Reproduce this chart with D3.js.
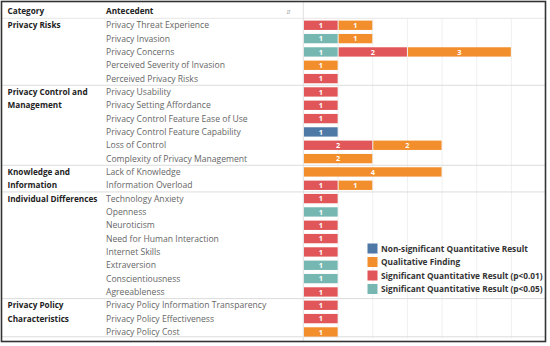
<!DOCTYPE html>
<html><head><meta charset="utf-8">
<script src="https://cdn.jsdelivr.net/npm/d3@7"></script>
<style>body{margin:0;background:#fff}svg{display:block}</style>
</head><body>
<svg id="c" width="550" height="346"></svg>
<script>
const categories = ["Privacy Risks","Privacy Control and Management","Knowledge and Information","Individual Differences","Privacy Policy Characteristics"];
const categoryLines = [["Privacy Risks"],["Privacy Control and","Management"],["Knowledge and","Information"],["Individual Differences"],["Privacy Policy","Characteristics"]];
const antecedents = ["Privacy Threat Experience","Privacy Invasion","Privacy Concerns","Perceived Severity of Invasion","Perceived Privacy Risks",
 "Privacy Usability","Privacy Setting Affordance","Privacy Control Feature Ease of Use","Privacy Control Feature Capability","Loss of Control","Complexity of Privacy Management",
 "Lack of Knowledge","Information Overload",
 "Technology Anxiety","Openness","Neuroticism","Need for Human Interaction","Internet Skills","Extraversion","Conscientiousness","Agreeableness",
 "Privacy Policy Information Transparency","Privacy Policy Effectiveness","Privacy Policy Cost"];
const antecedentCategory = [0,0,0,0,0, 1,1,1,1,1,1, 2,2, 3,3,3,3,3,3,3,3, 4,4,4];
const seriesNames = ["Non-significant Quantitative Result","Significant Quantitative Result (p<0.05)","Significant Quantitative Result (p<0.01)","Qualitative Finding"];
const nonSig = [0,0,0,0,0, 0,0,0,1,0,0, 0,0, 0,0,0,0,0,0,0,0, 0,0,0];
const sig05  = [0,1,1,0,0, 0,0,0,0,0,0, 0,0, 0,1,0,0,0,1,1,0, 0,0,0];
const sig01  = [1,0,2,0,1, 1,1,1,0,2,0, 0,1, 1,0,1,1,1,0,0,1, 1,1,0];
const qual   = [1,1,3,1,0, 0,0,0,0,2,2, 4,1, 0,0,0,0,0,0,0,0, 0,0,1];
const legendOrder = ["Non-significant Quantitative Result","Qualitative Finding","Significant Quantitative Result (p<0.01)","Significant Quantitative Result (p<0.05)"];
const xTicks = [1,2,3,4,5,6];

const colors = {"Non-significant Quantitative Result":"#4e79a7","Qualitative Finding":"#f28e2b","Significant Quantitative Result (p<0.01)":"#e15759","Significant Quantitative Result (p<0.05)":"#76b7b2"};
const FONT = "'Open Sans', sans-serif";
const svg = d3.select("#c");

const rows = antecedents.map((a,i)=>({name:a, cat:antecedentCategory[i],
  [seriesNames[0]]:nonSig[i],[seriesNames[1]]:sig05[i],[seriesNames[2]]:sig01[i],[seriesNames[3]]:qual[i]}));

const y = d3.scaleBand().domain(antecedents).range([18.6, 338.6]).paddingInner(0.3).paddingOuter(0.15);
const x = d3.scaleLinear().domain([0,7]).range([303.5, 546]);
const step = y.step();
const rowTop = n => y(n) - y.paddingOuter()*step;

// gridlines
svg.append("g").selectAll("line").data(xTicks).join("line")
  .attr("x1",d=>x(d)).attr("x2",d=>x(d)).attr("y1",18.6).attr("y2",338.6)
  .attr("stroke","#f0f0f0").attr("stroke-width",1);

// header
svg.append("text").attr("x",7.5).attr("y",14).text("Category")
  .attr("font-family",FONT).attr("font-size",8.2).attr("font-weight",700).attr("fill","#222");
svg.append("text").attr("x",106).attr("y",14).text("Antecedent")
  .attr("font-family",FONT).attr("font-size",8.2).attr("font-weight",700).attr("fill","#222");
svg.append("text").attr("x",288).attr("y",14).text("⇵").attr("text-anchor","middle")
  .attr("font-family",FONT).attr("font-size",6).attr("fill","#aaa");

// header line
svg.append("line").attr("x1",2).attr("x2",545).attr("y1",18.3).attr("y2",18.3).attr("stroke","#e6e6e6");

// group separators
const groupStarts = categories.map((c,ci)=>antecedents[antecedentCategory.indexOf(ci)]);
svg.append("g").selectAll("line").data(groupStarts.slice(1).concat(["__end"])).join("line")
  .attr("x1",2).attr("x2",545)
  .attr("y1",d=>d==="__end"?336.8:rowTop(d)).attr("y2",d=>d==="__end"?336.8:rowTop(d))
  .attr("stroke","#dcdcdc").attr("stroke-width",1);

// vertical axis line
svg.append("line").attr("x1",303.3).attr("x2",303.3).attr("y1",2).attr("y2",341).attr("stroke","#e0e0e0");

// category labels
const cg = svg.append("g");
categories.forEach((c,ci)=>{
  const t = cg.append("text").attr("x",7.5).attr("y",rowTop(groupStarts[ci])+9.6)
    .attr("font-family",FONT).attr("font-size",8.2).attr("font-weight",700).attr("fill","#222");
  categoryLines[ci].forEach((l,li)=>t.append("tspan").attr("x",7.5).attr("dy",li?step:0).text(l));
});

// antecedent labels
svg.append("g").selectAll("text").data(antecedents).join("text")
  .attr("x",106).attr("y",d=>y(d)+y.bandwidth()/2+3)
  .attr("font-family",FONT).attr("font-size",8.6).attr("fill","#666").text(d=>d);

// bars
const stack = d3.stack().keys(seriesNames)(rows);
const bg = svg.append("g");
stack.forEach(s=>{
  const segs = s.filter(d=>d[1]-d[0]>0);
  bg.selectAll(null).data(segs).join("rect")
    .attr("x",d=>x(d[0])+0.5).attr("width",d=>x(d[1])-x(d[0])-1)
    .attr("y",d=>y(d.data.name)).attr("height",y.bandwidth())
    .attr("fill",colors[s.key]);
  bg.selectAll(null).data(segs).join("text")
    .attr("x",d=>(x(d[0])+x(d[1]))/2).attr("y",d=>y(d.data.name)+y.bandwidth()/2+2.6)
    .attr("text-anchor","middle").attr("font-family",FONT).attr("font-size",7.3).attr("font-weight",700)
    .attr("fill","#fff").text(d=>d[1]-d[0]);
});

// legend
const lg = svg.append("g").selectAll("g").data(legendOrder).join("g")
  .attr("transform",(d,i)=>`translate(367.5,${243.5+i*13.5})`);
lg.append("rect").attr("width",10).attr("height",10).attr("fill",d=>colors[d]);
lg.append("text").attr("x",13.5).attr("y",8.3).text(d=>d)
  .attr("font-family",FONT).attr("font-size",8.3).attr("font-weight",700).attr("fill","#333");

// outer border
svg.append("rect").attr("x",1.5).attr("y",1.5).attr("width",544).attr("height",340)
  .attr("fill","none").attr("stroke","#333").attr("stroke-width",1.6);
</script>
</body></html>
